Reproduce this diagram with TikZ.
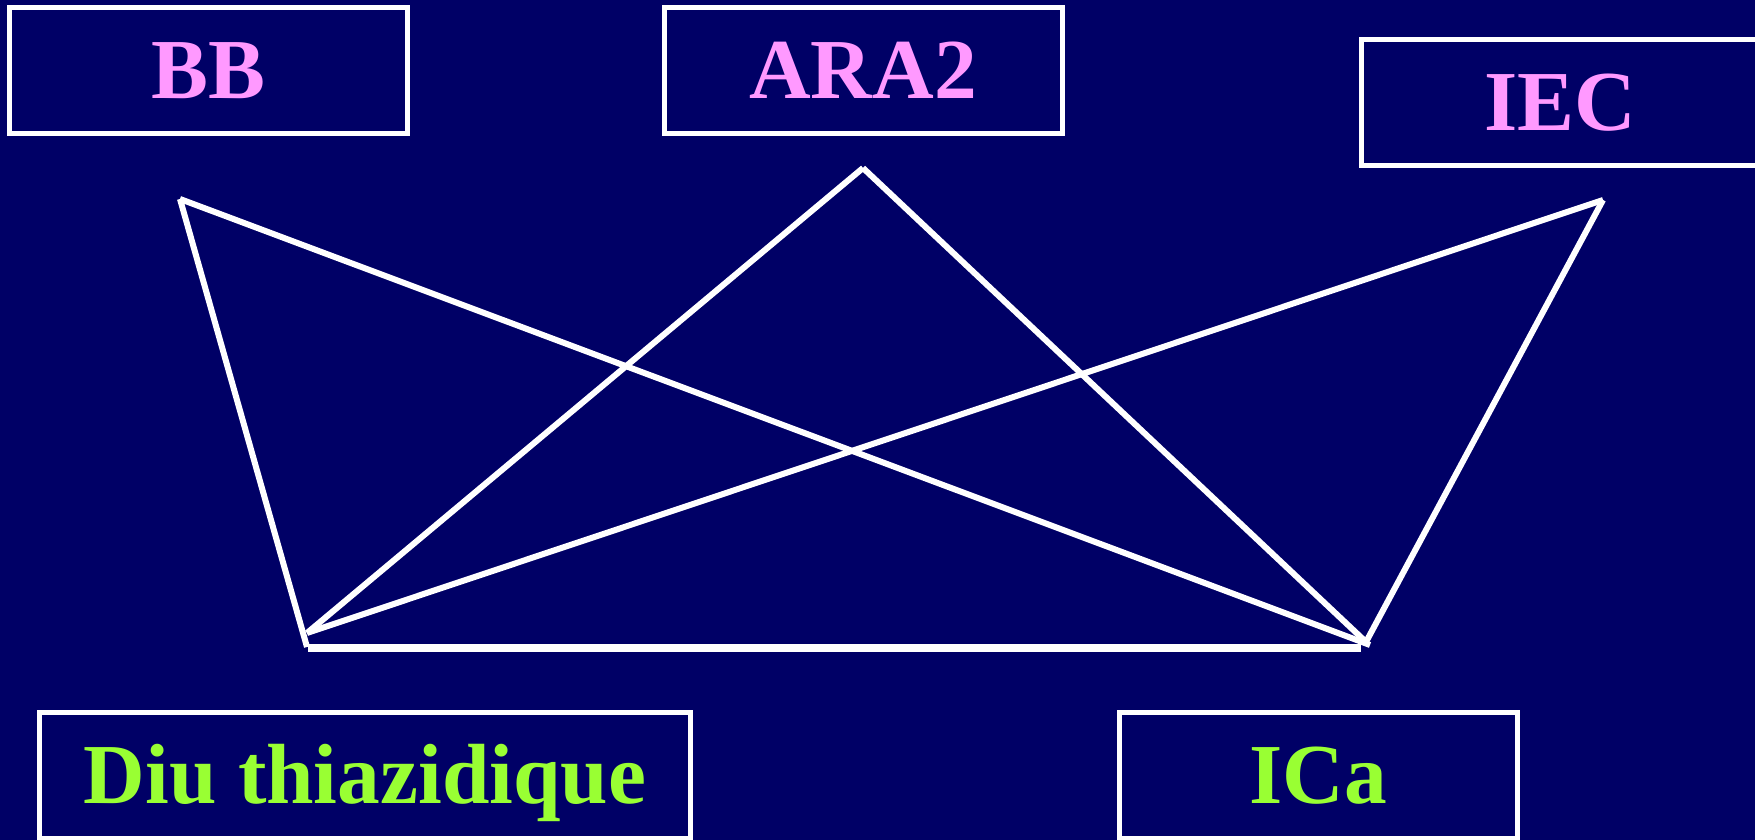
\documentclass[tikz,border=0pt]{standalone}
\usepackage{fontspec}
\setmainfont{Liberation Serif}
\usepackage{xcolor}
\usepackage{tikz}
\usetikzlibrary{positioning}

\definecolor{fond}{HTML}{000066}
\definecolor{rose}{HTML}{FF99FF}
\definecolor{vert}{HTML}{99FF33}

\begin{document}
\begin{tikzpicture}[
            drogue/.style={rectangle, draw=white, line width=0.05cm, fill=fond,
                           minimum width=3.98cm, minimum height=1.26cm, inner sep=0pt,
                           text height=0.55cm, text depth=0pt,
                           font=\fontsize{24.3}{29}\selectfont\bfseries},
            haut/.style  ={drogue, text=rose},
            bas/.style   ={drogue, text=vert},
            lien/.style  ={white, line width=0.06cm},
            base/.style  ={white, line width=0.08cm}
        ]
            \fill[fond] (0,0) rectangle (17.55,8.4);
            \useasboundingbox (0,0) rectangle (17.55,8.4);

            \node[haut] (bb)  at (2.085,7.69) {BB};
            \node[haut] (ara) at (8.63,7.69)  {ARA2};
            \node[haut] (iec) at (15.605,7.37) {IEC};
            \node[bas, minimum width=6.51cm] (diu) at (3.65,0.64) {Diu thiazidique};
            \node[bas]  (ica) at (13.185,0.64) {ICa};

            \coordinate (bbTop)  at (1.80,6.41);
            \coordinate (araTop) at (8.63,6.72);
            \coordinate (iecTop) at (16.03,6.40);
            \coordinate (diuPt)  at (3.07,2.07);
            \coordinate (diuBas) at (3.07,1.93);
            \coordinate (icaPt)  at (13.66,1.98);
            \coordinate (icaBas) at (13.70,1.95);
            \coordinate (baseG)  at (3.08,1.92);
            \coordinate (baseD)  at (13.61,1.92);

            \draw[lien] (bbTop)  -- (diuBas);
            \draw[lien] (bbTop)  -- (icaBas);
            \draw[lien] (araTop) -- (diuPt);
            \draw[lien] (araTop) -- (icaPt);
            \draw[lien] (iecTop) -- (diuPt);
            \draw[lien] (iecTop) -- (icaPt);
            \draw[base] (baseG)  -- (baseD);

        \end{tikzpicture}
\end{document}
